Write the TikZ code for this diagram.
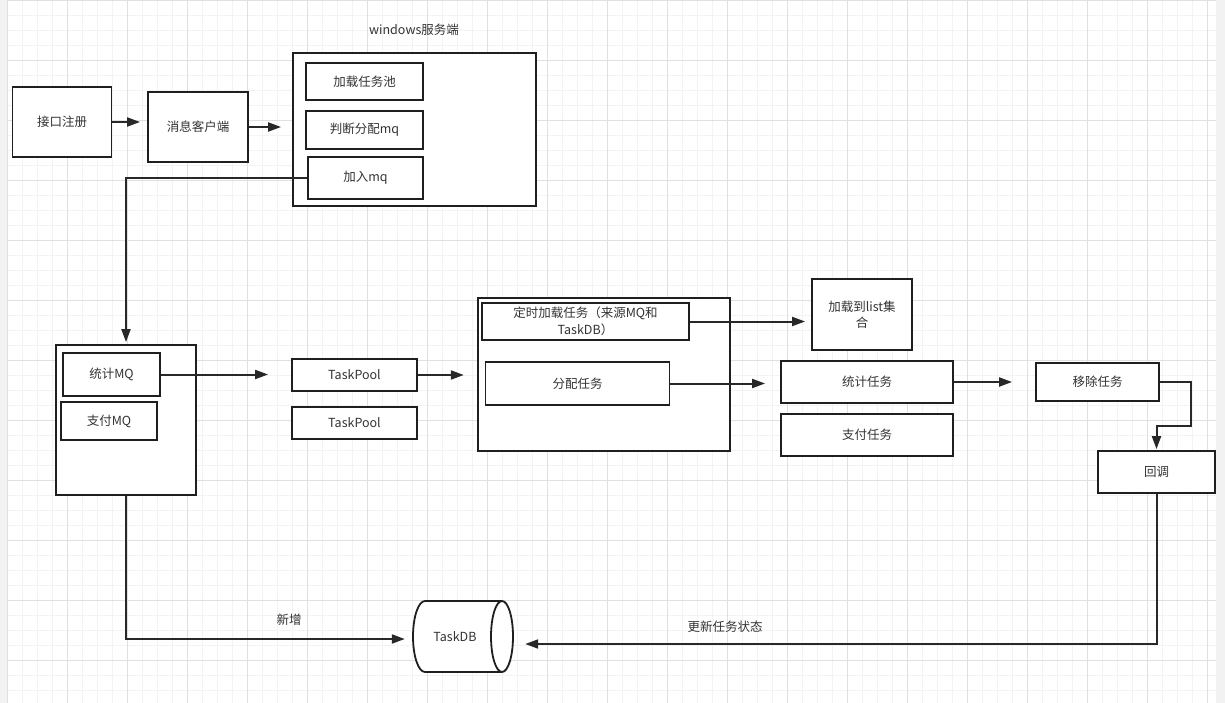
\documentclass[tikz,border=0pt]{standalone}
\usepackage{fontspec}
\usetikzlibrary{arrows.meta}
\newfontfamily\cjk{Noto Sans CJK SC}
\definecolor{flowline}{RGB}{40,40,40}
\definecolor{flowtext}{RGB}{51,51,51}
\definecolor{gridminor}{RGB}{243,243,243}
\definecolor{gridmajor}{RGB}{224,224,224}

\begin{document}
\begin{tikzpicture}[x=1pt,y=-1pt,
  every node/.style={font=\cjk\fontsize{12.5}{17}\selectfont,text=flowtext},
  flowbox/.style={draw=black!88,fill=white,line width=1.8pt,inner sep=2pt,align=center},
  flow/.style={draw=flowline,line width=2pt,-{Triangle[length=13pt,width=9pt]}}]
  \useasboundingbox (0,0) rectangle (1225,703);
  % background grid
  \fill[white] (0,0) rectangle (1225,703);
  \foreach \gx in {7,22,...,1215} \draw[gridminor,line width=0.8pt] (\gx,0) -- (\gx,703);
  \foreach \gy in {0,15,...,703} \draw[gridminor,line width=0.8pt] (7,\gy) -- (1216,\gy);
  \foreach \gx in {7,67,...,1215} \draw[gridmajor,line width=0.8pt] (\gx,0) -- (\gx,703);
  \foreach \gy in {0,60,...,703} \draw[gridmajor,line width=0.8pt] (7,\gy) -- (1216,\gy);
  \fill[black!5] (0,0) rectangle (6.5,703);
  \fill[black!5] (1216,0) rectangle (1225,703);

  % windows side
  \node (wintitle) at (414,30) {windows服务端};
  \node[flowbox,minimum width=99pt,minimum height=70pt] (reg) at (62,122) {接口注册};
  \node[flowbox,minimum width=100pt,minimum height=70pt] (client) at (198,127) {消息客户端};
  \node[flowbox,minimum width=243pt,minimum height=153pt] (winsrv) at (414.5,129.5) {};
  \node[flowbox,minimum width=117pt,minimum height=37pt] (loadpool) at (364.5,81.5) {加载任务池};
  \node[flowbox,minimum width=117pt,minimum height=38pt] (judge) at (364.5,130) {判断分配mq};
  \node[flowbox,minimum width=115pt,minimum height=42pt] (addmq) at (365.5,178) {加入mq};

  % mq and pools
  \node[flowbox,minimum width=140pt,minimum height=150pt] (mqbox) at (126,420) {};
  \node[flowbox,minimum width=97pt,minimum height=43pt] (statmq) at (111.5,374.5) {统计MQ};
  \node[flowbox,minimum width=96pt,minimum height=38pt] (paymq) at (109,421) {支付MQ};
  \node[flowbox,minimum width=125pt,minimum height=32pt] (poolA) at (354.5,375) {TaskPool};
  \node[flowbox,minimum width=125pt,minimum height=32pt] (poolB) at (354.5,423) {TaskPool};

  % scheduler
  \node[flowbox,minimum width=252.5pt,minimum height=153pt] (sched) at (604,374.5) {};
  \node[flowbox,minimum width=207pt,minimum height=37pt,inner sep=0pt] (timer) at (585.5,321.5) {定时加载任务（来源MQ和\\TaskDB）};
  \node[flowbox,minimum width=184pt,minimum height=43pt] (assign) at (577.5,383.5) {分配任务};
  \node[flowbox,minimum width=100pt,minimum height=71pt,font=\cjk\fontsize{12.5}{16}\selectfont] (listset) at (862,314.5) {加载到list集\\合};
  \node[flowbox,minimum width=172pt,minimum height=42pt] (stattask) at (867,382) {统计任务};
  \node[flowbox,minimum width=172pt,minimum height=42pt] (paytask) at (867,435) {支付任务};
  \node[flowbox,minimum width=123pt,minimum height=38pt] (remove) at (1097.5,382) {移除任务};
  \node[flowbox,minimum width=117pt,minimum height=42pt] (callback) at (1156.5,472) {回调};

  % TaskDB cylinder
  \draw[black!88,fill=white,line width=1.8pt] (425,601) -- (502,601)
    arc[start angle=90,end angle=-90,x radius=11pt,y radius=35.5pt] -- (425,672)
    arc[start angle=270,end angle=90,x radius=12pt,y radius=35.5pt] -- cycle;
  \draw[black!88,line width=1.8pt] (502,601) arc[start angle=90,end angle=270,x radius=11pt,y radius=35.5pt];
  \node[minimum width=102pt,minimum height=71pt,inner sep=0pt] (db) at (463,636.5) {};
  \node (dblabel) at (455,637) {TaskDB};

  % connectors
  \draw[flow,shorten >=7pt] (reg.east) -- (reg.east -| client.west);
  \draw[flow,shorten >=11pt] (client.east) -- (client.east -| winsrv.west);
  \draw[flow,shorten >=2pt] (addmq.west) -| (mqbox.north);
  \draw[flow,shorten >=23pt] (statmq.east) -- (statmq.east -| poolA.west);
  \draw[flow,shorten >=13pt] (poolA.east) -- (poolA.east -| sched.west);
  \draw[flow,shorten >=6pt] (timer.east) -- (timer.east -| listset.west);
  \draw[flow,shorten >=15pt] (assign.east) -- (assign.east -| stattask.west);
  \draw[flow,shorten >=23pt] (stattask.east) -- (remove.west);
  \draw[flow,shorten >=1pt] (remove.east) -| ++(31,44) -| (callback.north);
  \draw[flow,shorten >=7pt] (mqbox.south) |- ([yshift=-2.5pt]db.west);
  \draw[flow,shorten >=11pt] (callback.south) |- ([yshift=-7.5pt]db.east);
  \node (addlabel) at (289,620) {新增};
  \node (updlabel) at (725,627) {更新任务状态};
\end{tikzpicture}
\end{document}
